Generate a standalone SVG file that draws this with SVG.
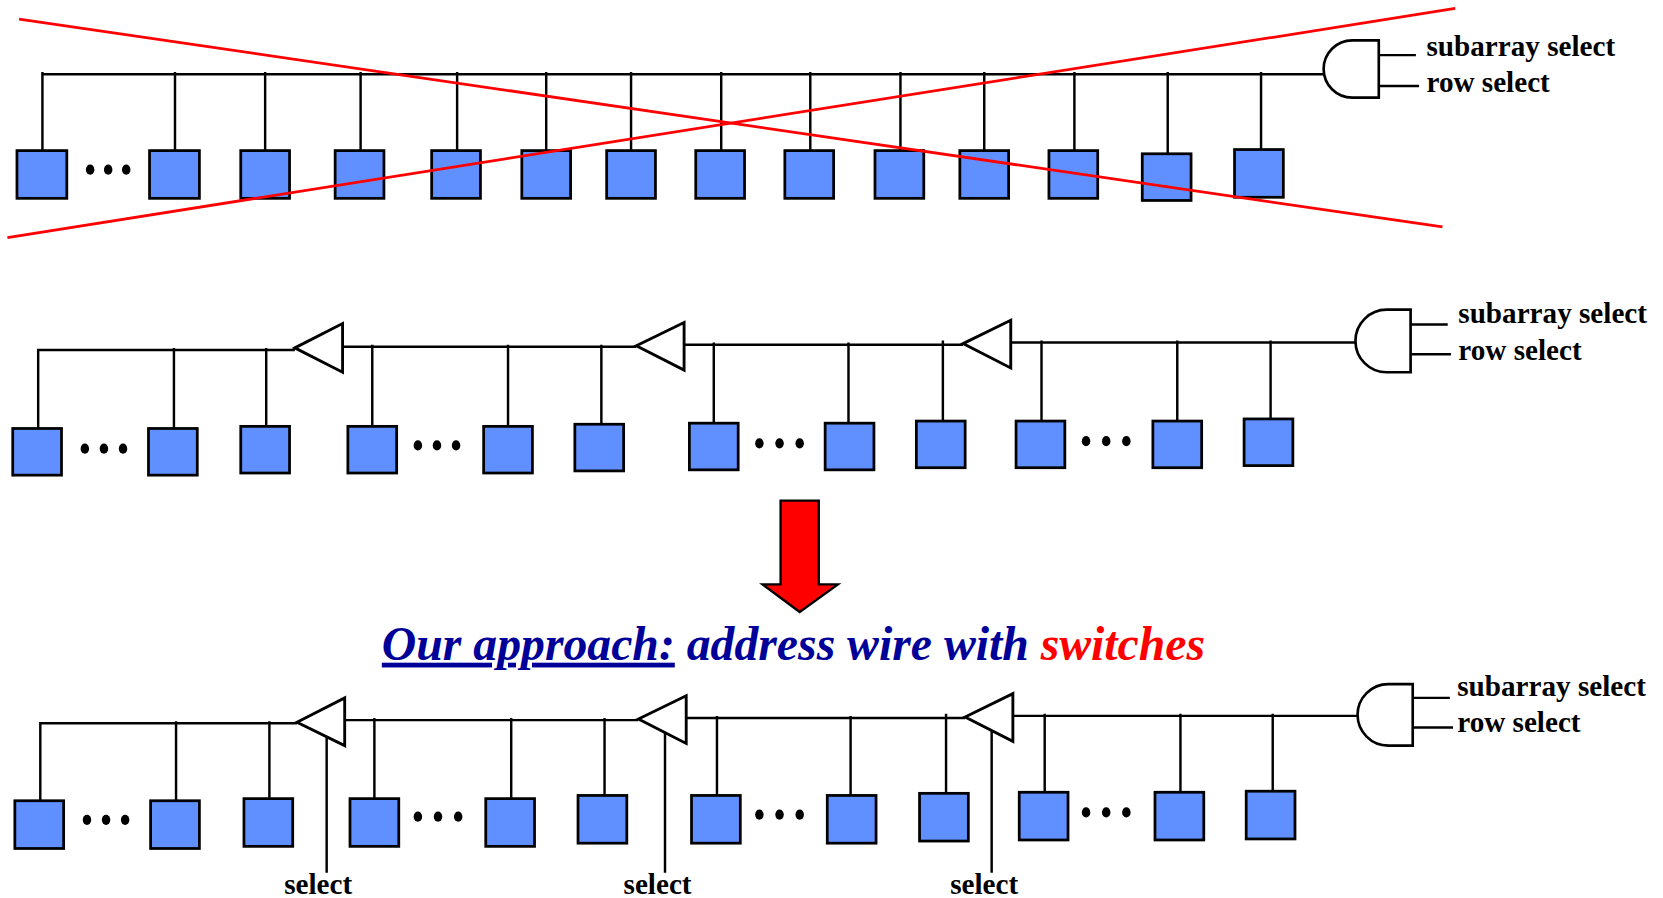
<svg xmlns="http://www.w3.org/2000/svg" width="1663" height="898" viewBox="0 0 1663 898">
<defs>
<style>
.cell{fill:#6090FF;stroke:#000;stroke-width:2.6}
.wire{stroke:#000;stroke-width:2.3;fill:none}
.gate{fill:#fff;stroke:#000;stroke-width:2.5}
.buf{fill:#fff;stroke:#000;stroke-width:2.7;stroke-linejoin:miter}
.dot{fill:#000}
.lbl{font-family:"Liberation Serif","Times New Roman",serif;font-weight:bold;font-size:27.5px;fill:#000}
.cross{stroke:#FF0000;stroke-width:2.6}
</style>
</defs>
<rect width="1663" height="898" fill="#fff"/>
<g transform="scale(1.0606)">

<!-- ===== Row 1 (crossed out) ===== -->
<g id="connectors-row1">
<path class="wire" d="M40,70 H1248"/>
<path class="wire" d="M40,68 V142 M165,68 V142 M250,68 V142 M340,68 V142 M431,68 V142 M515,68 V142 M595,68 V142 M680,68 V142 M764,68 V142 M849,68 V142 M928,68 V142 M1013,68 V142 M1101,68 V145 M1189,68 V141"/>
<path class="wire" d="M1300,52 H1335 M1300,81 H1338"/>
</g>
<g id="cells-row1">
<rect class="cell" x="16" y="142" width="47" height="45"/>
<rect class="cell" x="141" y="142" width="47" height="45"/>
<rect class="cell" x="227" y="142" width="46" height="45"/>
<rect class="cell" x="316" y="142" width="46" height="45"/>
<rect class="cell" x="407" y="142" width="46" height="45"/>
<rect class="cell" x="492" y="142" width="46" height="45"/>
<rect class="cell" x="572" y="142" width="46" height="45"/>
<rect class="cell" x="656" y="142" width="46" height="45"/>
<rect class="cell" x="740" y="142" width="46" height="45"/>
<rect class="cell" x="825" y="142" width="46" height="45"/>
<rect class="cell" x="905" y="142" width="46" height="45"/>
<rect class="cell" x="989" y="142" width="46" height="45"/>
<rect class="cell" x="1077" y="145" width="46" height="44"/>
<rect class="cell" x="1164" y="141" width="46" height="45"/>
<ellipse class="dot" cx="85" cy="160" rx="4" ry="4.8"/>
<ellipse class="dot" cx="102" cy="160" rx="4" ry="4.8"/>
<ellipse class="dot" cx="119" cy="160" rx="4" ry="4.8"/>
</g>
<g id="gate-row1">
<path class="gate" d="M1300,38 H1275 A27,27 0 0 0 1275,92 H1300 Z"/>
<text class="lbl" x="1345" y="53">subarray select</text>
<text class="lbl" x="1345" y="87">row select</text>
</g>
<g id="cross">
<line class="cross" x1="18" y1="18" x2="1360" y2="214"/>
<line class="cross" x1="7" y1="224" x2="1372" y2="8"/>
</g>

<!-- ===== Row 2 (repeaters) ===== -->
<g id="connectors-row2">
<path class="wire" d="M36,404 V330 H278 M323,327 H600 M645,325 H908 M953,323 H1278"/>
<path class="wire" d="M164,328 V404 M251,328 V402 M351,325 V402 M479,325 V402 M567,325 V400 M673,323 V399 M800,323 V399 M889,321 V397 M982,321 V397 M1110,321 V397 M1198,321 V395"/>
<path class="wire" d="M1330,306 H1365 M1330,334 H1368"/>
</g>
<g id="buffers-row2">
<polygon class="buf" points="278,328 323,305 323,351"/>
<polygon class="buf" points="600,326 645,304 645,349"/>
<polygon class="buf" points="908,324 953,302 953,347"/>
</g>
<g id="cells-row2">
<rect class="cell" x="12" y="404" width="46" height="44"/>
<rect class="cell" x="140" y="404" width="46" height="44"/>
<rect class="cell" x="227" y="402" width="46" height="44"/>
<rect class="cell" x="328" y="402" width="46" height="44"/>
<rect class="cell" x="456" y="402" width="46" height="44"/>
<rect class="cell" x="542" y="400" width="46" height="44"/>
<rect class="cell" x="650" y="399" width="46" height="44"/>
<rect class="cell" x="778" y="399" width="46" height="44"/>
<rect class="cell" x="864" y="397" width="46" height="44"/>
<rect class="cell" x="958" y="397" width="46" height="44"/>
<rect class="cell" x="1087" y="397" width="46" height="44"/>
<rect class="cell" x="1173" y="395" width="46" height="44"/>
<ellipse class="dot" cx="80" cy="423" rx="4" ry="4.8"/>
<ellipse class="dot" cx="98" cy="423" rx="4" ry="4.8"/>
<ellipse class="dot" cx="116" cy="423" rx="4" ry="4.8"/>
<ellipse class="dot" cx="394" cy="420" rx="4" ry="4.8"/>
<ellipse class="dot" cx="412" cy="420" rx="4" ry="4.8"/>
<ellipse class="dot" cx="430" cy="420" rx="4" ry="4.8"/>
<ellipse class="dot" cx="716" cy="418" rx="4" ry="4.8"/>
<ellipse class="dot" cx="735" cy="418" rx="4" ry="4.8"/>
<ellipse class="dot" cx="754" cy="418" rx="4" ry="4.8"/>
<ellipse class="dot" cx="1024" cy="416" rx="4" ry="4.8"/>
<ellipse class="dot" cx="1043" cy="416" rx="4" ry="4.8"/>
<ellipse class="dot" cx="1062" cy="416" rx="4" ry="4.8"/>
</g>
<g id="gate-row2">
<path class="gate" d="M1330,292 H1307.5 A29.5,29.5 0 0 0 1307.5,351 H1330 Z"/>
<text class="lbl" x="1375" y="305">subarray select</text>
<text class="lbl" x="1375" y="339">row select</text>
</g>

<!-- ===== Arrow and title ===== -->
<g id="arrow">
<polygon points="736,472 772,472 772,551 790,551 754,577 719,551 736,551" fill="#FF0000" stroke="#000" stroke-width="2.2"/>
</g>
<g id="title">
<text x="360" y="622" font-family="'Liberation Serif','Times New Roman',serif" font-weight="bold" font-style="italic" font-size="45" fill="#000099"><tspan text-decoration="underline">Our approach:</tspan> address wire with <tspan fill="#FF0000">switches</tspan></text>
</g>

<!-- ===== Row 3 (switches) ===== -->
<g id="connectors-row3">
<path class="wire" d="M38,755 V682 H280 M325,679 H602 M647,677 H910 M955,675 H1280"/>
<path class="wire" d="M166,680 V755 M254,680 V753 M353,677 V753 M482,677 V753 M570,677 V750 M676,675 V750 M802,675 V750 M892,673 V748 M985,673 V747 M1113,673 V747 M1200,673 V746"/>
<path class="wire" d="M1332,658 H1367 M1332,686 H1370"/>
<path class="wire" d="M308,695 V823 M627,691 V823 M935,689 V823"/>
</g>
<g id="buffers-row3">
<polygon class="buf" points="280,681 325,658 325,703"/>
<polygon class="buf" points="602,678 647,656 647,701"/>
<polygon class="buf" points="910,676 955,654 955,699"/>
</g>
<g id="cells-row3">
<rect class="cell" x="14" y="755" width="46" height="45"/>
<rect class="cell" x="142" y="755" width="46" height="45"/>
<rect class="cell" x="230" y="753" width="46" height="45"/>
<rect class="cell" x="330" y="753" width="46" height="45"/>
<rect class="cell" x="458" y="753" width="46" height="45"/>
<rect class="cell" x="545" y="750" width="46" height="45"/>
<rect class="cell" x="652" y="750" width="46" height="45"/>
<rect class="cell" x="780" y="750" width="46" height="45"/>
<rect class="cell" x="867" y="748" width="46" height="45"/>
<rect class="cell" x="961" y="747" width="46" height="45"/>
<rect class="cell" x="1089" y="747" width="46" height="45"/>
<rect class="cell" x="1175" y="746" width="46" height="45"/>
<ellipse class="dot" cx="82" cy="773" rx="4" ry="4.8"/>
<ellipse class="dot" cx="100" cy="773" rx="4" ry="4.8"/>
<ellipse class="dot" cx="118" cy="773" rx="4" ry="4.8"/>
<ellipse class="dot" cx="394" cy="770" rx="4" ry="4.8"/>
<ellipse class="dot" cx="413" cy="770" rx="4" ry="4.8"/>
<ellipse class="dot" cx="432" cy="770" rx="4" ry="4.8"/>
<ellipse class="dot" cx="716" cy="768" rx="4" ry="4.8"/>
<ellipse class="dot" cx="735" cy="768" rx="4" ry="4.8"/>
<ellipse class="dot" cx="754" cy="768" rx="4" ry="4.8"/>
<ellipse class="dot" cx="1024" cy="766" rx="4" ry="4.8"/>
<ellipse class="dot" cx="1043" cy="766" rx="4" ry="4.8"/>
<ellipse class="dot" cx="1062" cy="766" rx="4" ry="4.8"/>
</g>
<g id="gate-row3">
<path class="gate" d="M1332,645 H1309 A29,29 0 0 0 1309,703 H1332 Z"/>
<text class="lbl" x="1374" y="656">subarray select</text>
<text class="lbl" x="1374" y="690">row select</text>
</g>
<g id="select-labels">
<text class="lbl" x="300" y="843" text-anchor="middle">select</text>
<text class="lbl" x="620" y="843" text-anchor="middle">select</text>
<text class="lbl" x="928" y="843" text-anchor="middle">select</text>
</g>
</g>
</svg>
